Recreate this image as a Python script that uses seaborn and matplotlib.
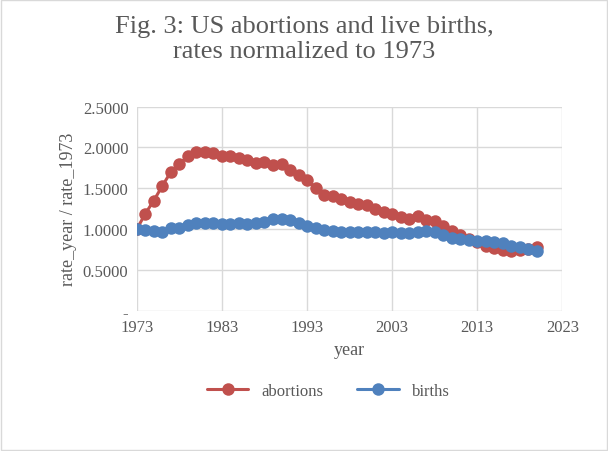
import numpy as np
import pandas as pd
import matplotlib
matplotlib.use("Agg")
import matplotlib.pyplot as plt
import seaborn as sns
from matplotlib.ticker import FuncFormatter

years = list(range(1973, 2021))
abortions = [1.00, 1.19, 1.35, 1.53, 1.70, 1.80, 1.89, 1.94, 1.95, 1.93, 1.90, 1.89,
             1.87, 1.85, 1.81, 1.82, 1.78, 1.80, 1.73, 1.66, 1.60, 1.50, 1.42, 1.41,
             1.37, 1.33, 1.31, 1.29, 1.25, 1.21, 1.19, 1.15, 1.13, 1.16, 1.11, 1.10,
             1.04, 0.98, 0.93, 0.88, 0.84, 0.80, 0.77, 0.74, 0.73, 0.75, 0.76, 0.78]
births = [1.00, 0.99, 0.98, 0.97, 1.01, 1.01, 1.05, 1.07, 1.07, 1.07, 1.06, 1.06,
          1.07, 1.06, 1.07, 1.09, 1.12, 1.13, 1.11, 1.07, 1.04, 1.01, 0.99, 0.98,
          0.97, 0.97, 0.97, 0.97, 0.96, 0.95, 0.96, 0.95, 0.95, 0.97, 0.98, 0.96,
          0.93, 0.89, 0.88, 0.87, 0.85, 0.85, 0.84, 0.83, 0.80, 0.78, 0.76, 0.73]

df = pd.DataFrame({"year": years * 2,
                   "value": abortions + births,
                   "series": ["abortions"] * len(years) + ["births"] * len(years)})

sns.set_style("white")
plt.rcParams["font.family"] = ["Liberation Serif", "DejaVu Serif"]

fig, ax = plt.subplots(figsize=(6.08, 4.52), dpi=100)
fig.subplots_adjust(left=0.225, right=0.925, top=0.762, bottom=0.31)
sns.lineplot(data=df, x="year", y="value", hue="series", marker="o",
             palette={"abortions": "#c0504d", "births": "#4f81bd"},
             linewidth=2.2, markersize=9, markeredgewidth=0, ax=ax)
ax.set_xlim(1973, 2023)
ax.set_ylim(0, 2.5)
ax.set_xticks(range(1973, 2024, 10))
ax.set_yticks(np.arange(0, 2.51, 0.5))
ax.yaxis.set_major_formatter(FuncFormatter(lambda v, p: "-" if v == 0 else f"{v:.4f}"))
ax.grid(True, color="#d9d9d9", linewidth=1)
for s in ax.spines.values():
    s.set_visible(False)
ax.tick_params(length=0, labelsize=12, colors="#595959", pad=6)
ax.set_xlabel("year", fontsize=13, color="#595959")
ax.set_ylabel("rate_year / rate_1973", fontsize=13, color="#595959")
fig.suptitle("Fig. 3: US abortions and live births,\nrates normalized to 1973",
             fontsize=19, color="#595959", y=0.965, linespacing=1.2)
ax.legend(loc="upper center", bbox_to_anchor=(0.45, -0.28), ncol=2, frameon=False,
          fontsize=12, labelcolor="#595959", handlelength=2.5)
fig.patches.append(plt.Rectangle((0.002, 0.002), 0.996, 0.996, transform=fig.transFigure,
                                 fill=False, edgecolor="#d9d9d9", linewidth=1))
fig.savefig("out.png", dpi=100)
